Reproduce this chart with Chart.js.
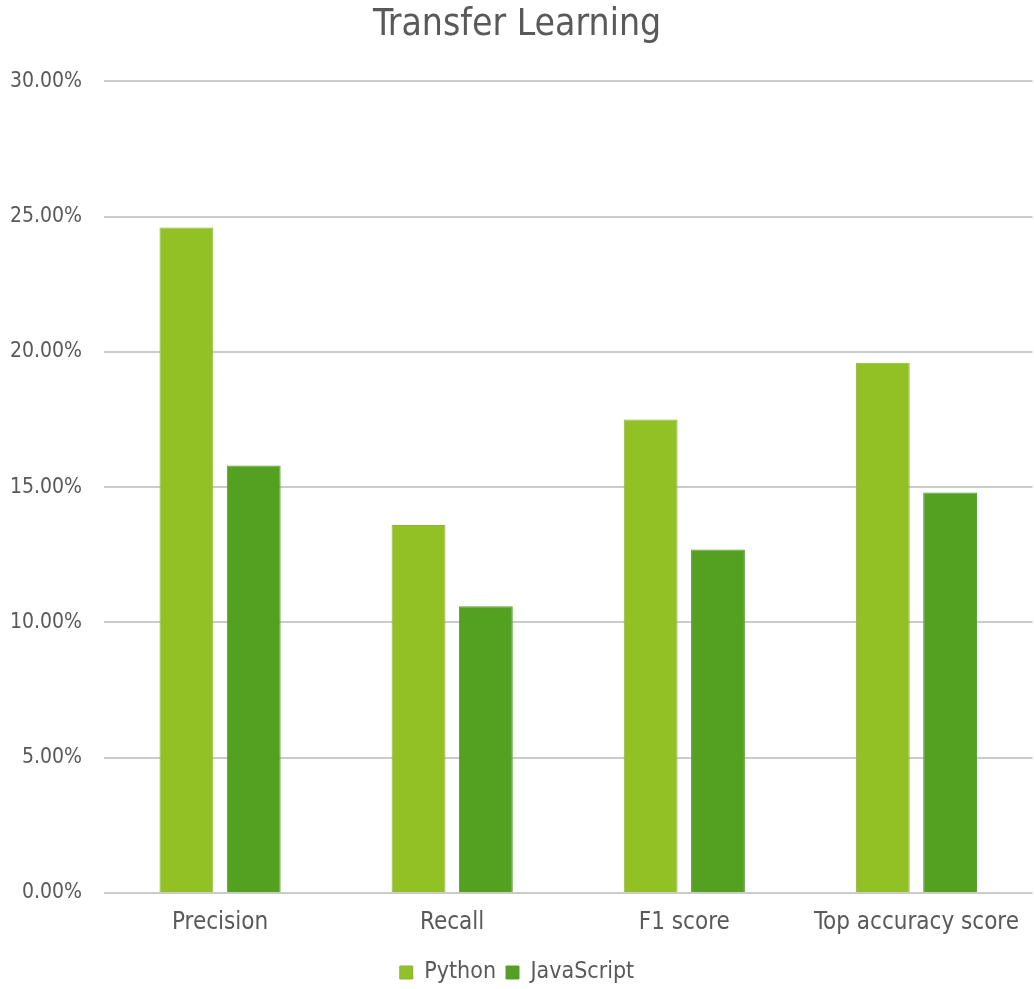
<!DOCTYPE html>
<html><head><meta charset="utf-8">
<script src="https://cdn.jsdelivr.net/npm/chart.js@4"></script>
<style>html,body{margin:0;padding:0;background:#fff}#w{width:1034px;height:989px}</style>
</head><body><div id="w"><canvas id="c"></canvas></div>
<script>
const categories = ["Precision", "Recall", "F1 score", "Top accuracy score"];
const pythonValues = [0.246, 0.136, 0.175, 0.196];
const javascriptValues = [0.158, 0.106, 0.127, 0.148];
const seriesNames = ["Python", "JavaScript"];
const FONT = "'DejaVu Sans Condensed','Liberation Sans Narrow',sans-serif";
Chart.defaults.font.family = FONT;
Chart.defaults.color = '#595959';
new Chart(document.getElementById('c'), {
  type: 'bar',
  data: {
    labels: categories,
    datasets: [
      {label: seriesNames[0], data: pythonValues, backgroundColor: '#92c126', borderColor: '#8fb33a', borderWidth: 1, categoryPercentage: 0.58, barPercentage: 0.8},
      {label: seriesNames[1], data: javascriptValues, backgroundColor: '#54a021', borderColor: '#5c9a36', borderWidth: 1, categoryPercentage: 0.58, barPercentage: 0.8}
    ]
  },
  options: {
    responsive: true, maintainAspectRatio: false, animation: false,
    layout: {padding: {left: 0, right: 0, top: 0, bottom: -5}},
    plugins: {
      title: {display: true, text: 'Transfer Learning', color: '#595959', font: {size: 37, weight: 'normal'}, padding: {top: 3, bottom: 34}},
      legend: {position: 'bottom', labels: {boxWidth: 13, boxHeight: 13, font: {size: 23}, color: '#595959', padding: 10}},
      tooltip: {enabled: false}
    },
    scales: {
      x: {
        afterFit: s => { s.height = 58; },
        grid: {display: false, drawTicks: false},
        border: {display: false},
        ticks: {font: {size: 24}, color: '#595959', padding: 15}
      },
      y: {
        min: 0, max: 0.3,
        afterFit: s => { s.width = 104; },
        grid: {color: '#cbcbcb', lineWidth: 2, drawTicks: false},
        border: {display: false},
        ticks: {stepSize: 0.05, font: {size: 21}, color: '#595959', padding: 22,
          callback: v => (v * 100).toFixed(2) + '%'}
      }
    }
  }
});
</script></body></html>
